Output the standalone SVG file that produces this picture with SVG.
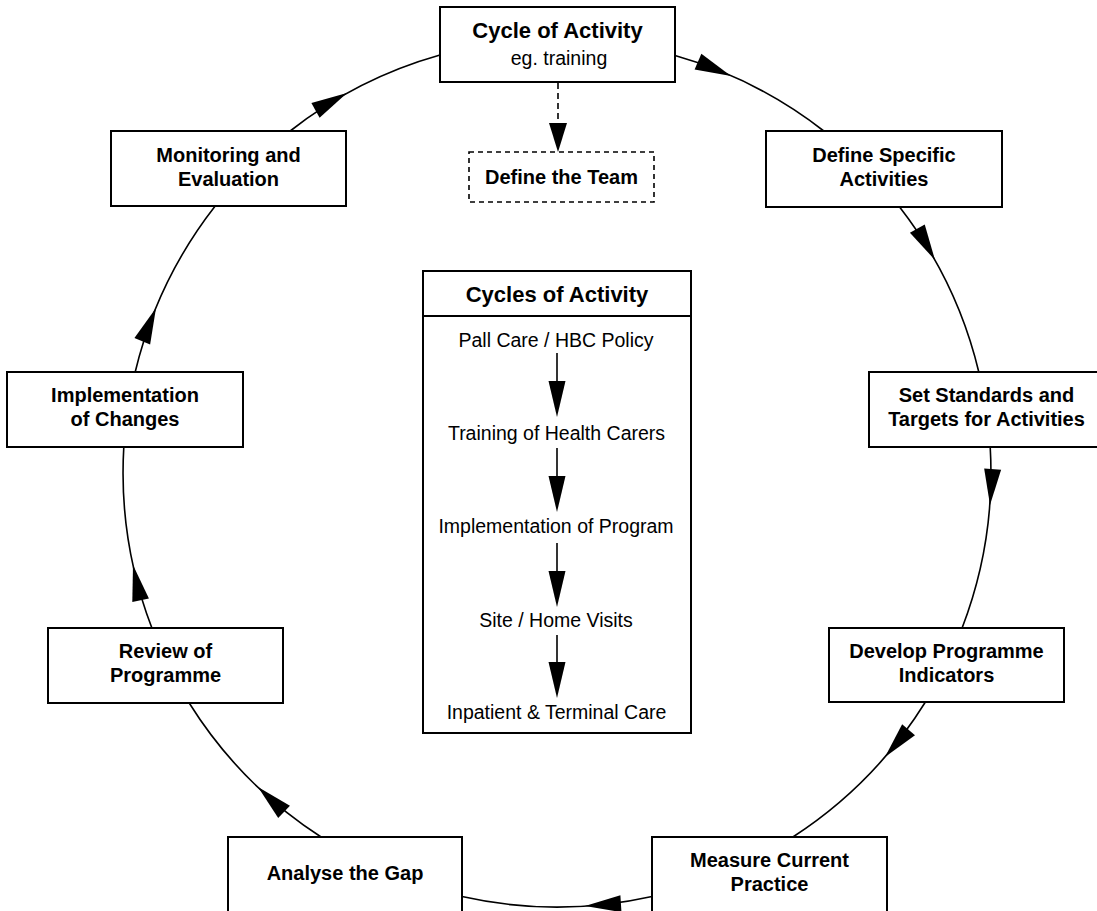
<svg xmlns="http://www.w3.org/2000/svg" xmlns:xlink="http://www.w3.org/1999/xlink" width="1097" height="911" viewBox="0 0 1097 911">
<style>
.box{fill:#fff;stroke:#000;stroke-width:2}
.dbox{fill:#fff;stroke:#000;stroke-width:1.6;stroke-dasharray:5 4}
.con{fill:none;stroke:#000;stroke-width:1.6}
.dcon{fill:none;stroke:#000;stroke-width:1.6;stroke-dasharray:6 4}
.lb{font-family:"Liberation Sans",Arial,sans-serif;font-weight:bold;font-size:20px;text-anchor:middle;fill:#000}
.ttl{font-family:"Liberation Sans",Arial,sans-serif;font-weight:bold;font-size:22px;text-anchor:middle;fill:#000}
.lt{font-family:"Liberation Sans",Arial,sans-serif;font-size:19.5px;text-anchor:middle;fill:#000}
</style>
<defs>
<path id="ah" d="M0,0 L-36,-8.5 L-36,8.5 Z" fill="#000"/>
<path id="ahd" d="M0,0 L-29,-9 L-29,9 Z" fill="#000"/>
</defs>
<rect width="1097" height="911" fill="#fff"/>
<g id="connectors">
<path class="con" d="M675,55.6 A434,434 0 0 1 823.8,131"/>
<path class="con" d="M899.6,207 A434,434 0 0 1 978.8,372"/>
<path class="con" d="M990.2,447 A434,434 0 0 1 962.1,628"/>
<path class="con" d="M925.4,702 A434,434 0 0 1 792.9,837"/>
<path class="con" d="M652,896.5 A434,434 0 0 1 462,896.5"/>
<path class="con" d="M321.1,837 A434,434 0 0 1 189.2,703"/>
<path class="con" d="M151.9,628 A434,434 0 0 1 123.8,447"/>
<path class="con" d="M135.2,372 A434,434 0 0 1 215.2,206"/>
<path class="con" d="M290.2,131 A434,434 0 0 1 440,55.1"/>
<use xlink:href="#ah" transform="translate(731,76) rotate(23.5)"/>
<use xlink:href="#ah" transform="translate(935,260) rotate(60.6)"/>
<use xlink:href="#ah" transform="translate(990,505) rotate(94.2)"/>
<use xlink:href="#ah" transform="translate(885,757) rotate(130.9)"/>
<use xlink:href="#ah" transform="translate(585,906) rotate(176.3)"/>
<use xlink:href="#ah" transform="translate(258,787) rotate(223.6)"/>
<use xlink:href="#ah" transform="translate(133,565) rotate(257.8)"/>
<use xlink:href="#ah" transform="translate(156,308) rotate(292.4)"/>
<use xlink:href="#ah" transform="translate(347,93) rotate(331.1)"/>
<path class="dcon" d="M558,83 V130"/>
<use xlink:href="#ahd" transform="translate(558,152) rotate(90)"/>
</g>
<g id="cycle-of-activity">
<rect class="box" x="440" y="7" width="235" height="75"/>
<text class="ttl" x="557.5" y="38">Cycle of Activity</text>
<text class="lt" x="559" y="65">eg. training</text>
</g>
<g id="define-team">
<rect class="dbox" x="469" y="152" width="185" height="50"/>
<text class="lb" x="561.5" y="184">Define the Team</text>
</g>
<g id="define-specific">
<rect class="box" x="766" y="131" width="236" height="76"/>
<text class="lb" x="884" y="162">Define Specific</text>
<text class="lb" x="884" y="186">Activities</text>
</g>
<g id="set-standards">
<rect class="box" x="869" y="372" width="235" height="75"/>
<text class="lb" x="986.5" y="402">Set Standards and</text>
<text class="lb" x="986.5" y="426">Targets for Activities</text>
</g>
<g id="develop-indicators">
<rect class="box" x="829" y="628" width="235" height="74"/>
<text class="lb" x="946.5" y="658">Develop Programme</text>
<text class="lb" x="946.5" y="682">Indicators</text>
</g>
<g id="measure-practice">
<rect class="box" x="652" y="837" width="235" height="75"/>
<text class="lb" x="769.5" y="867">Measure Current</text>
<text class="lb" x="769.5" y="891">Practice</text>
</g>
<g id="analyse-gap">
<rect class="box" x="228" y="837" width="234" height="75"/>
<text class="lb" x="345" y="880">Analyse the Gap</text>
</g>
<g id="review-programme">
<rect class="box" x="48" y="628" width="235" height="75"/>
<text class="lb" x="165.5" y="658">Review of</text>
<text class="lb" x="165.5" y="682">Programme</text>
</g>
<g id="implementation-changes">
<rect class="box" x="7" y="372" width="236" height="75"/>
<text class="lb" x="125" y="402">Implementation</text>
<text class="lb" x="125" y="426">of Changes</text>
</g>
<g id="monitoring-evaluation">
<rect class="box" x="111" y="131" width="235" height="75"/>
<text class="lb" x="228.5" y="162">Monitoring and</text>
<text class="lb" x="228.5" y="186">Evaluation</text>
</g>
<g id="cycles-of-activity">
<rect class="box" x="423" y="271" width="268" height="462"/>
<line x1="423" y1="316" x2="691" y2="316" stroke="#000" stroke-width="2"/>
<text class="ttl" x="557" y="302">Cycles of Activity</text>
<text class="lt" x="556" y="347">Pall Care / HBC Policy</text>
<text class="lt" x="556.5" y="440">Training of Health Carers</text>
<text class="lt" x="556" y="533">Implementation of Program</text>
<text class="lt" x="556" y="627">Site / Home Visits</text>
<text class="lt" x="556.5" y="719">Inpatient &amp; Terminal Care</text>
<g class="con">
<line x1="557" y1="353" x2="557" y2="385"/>
<line x1="557" y1="448" x2="557" y2="480"/>
<line x1="557" y1="543" x2="557" y2="575"/>
<line x1="557" y1="635" x2="557" y2="666"/>
</g>
<use xlink:href="#ah" transform="translate(557,417) rotate(90)"/>
<use xlink:href="#ah" transform="translate(557,512) rotate(90)"/>
<use xlink:href="#ah" transform="translate(557,607) rotate(90)"/>
<use xlink:href="#ah" transform="translate(557,698) rotate(90)"/>
</g>
</svg>
